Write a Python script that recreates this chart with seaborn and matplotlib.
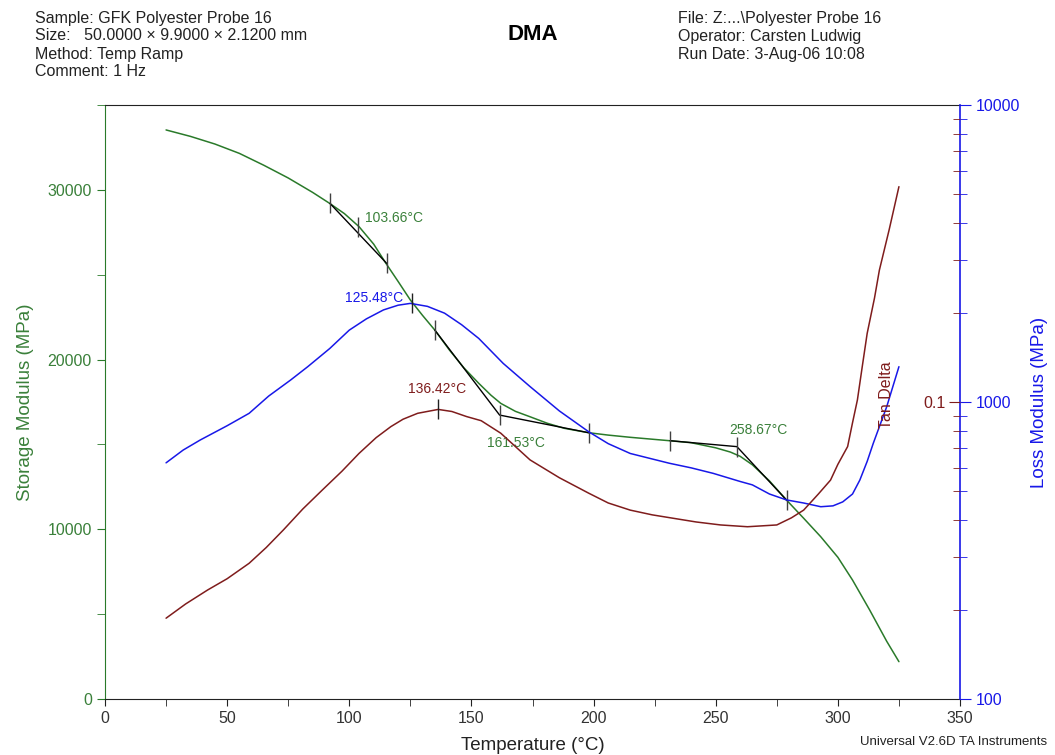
import pandas as pd
import seaborn as sns
import matplotlib.pyplot as plt
from matplotlib.ticker import MultipleLocator, FixedLocator, LogLocator, NullFormatter, FixedFormatter

# Storage modulus (MPa) vs temperature (°C)
storage_temp = [25, 35, 45, 55, 65, 75, 85, 92, 98, 104, 110, 115, 120, 125, 130, 135, 141, 147,
                153, 158, 162, 168, 174, 181, 188, 198, 206, 215, 223, 231, 240, 250, 256, 260,
                265, 272, 279, 286, 293, 300, 306, 313, 320, 325]
storage = [33530, 33150, 32700, 32150, 31450, 30700, 29850, 29200, 28600, 27830, 26800, 25670,
           24600, 23510, 22600, 21740, 20560, 19500, 18600, 17900, 17420, 16950, 16630, 16250,
           15950, 15690, 15550, 15420, 15320, 15220, 15100, 14800, 14550, 14300, 13800, 12850,
           11720, 10650, 9560, 8350, 7010, 5250, 3400, 2200]

# Loss modulus (MPa), log axis
loss_temp = [25, 32, 39, 50, 59, 67, 76, 83, 92, 100, 107, 114, 120, 125, 132, 139, 146, 153,
             163, 174, 186, 198, 206, 215, 223, 231, 240, 249, 260, 265, 272, 279, 286, 293,
             298, 302, 306, 309, 312, 314.5, 320, 325]
loss = [624, 689, 745, 832, 916, 1047, 1186, 1315, 1514, 1746, 1905, 2042, 2118, 2148, 2099,
        1991, 1820, 1637, 1349, 1127, 933, 794, 724, 671, 646, 622, 600, 575, 540, 526, 490,
        468, 457, 444, 447, 461, 490, 546, 631, 726, 964, 1315]

# Tan delta, log axis
tan_temp = [25, 33, 42, 50, 59, 66, 73, 81, 89, 97, 104, 111, 117, 122, 128, 136.4, 142, 148,
            154, 162, 168, 174, 186, 198, 206, 215, 224, 233, 242, 252, 263, 275, 281, 286,
            292, 297, 300, 304, 306, 308, 310, 312, 315, 317, 321, 325]
tan_delta = [0.01871, 0.02089, 0.02328, 0.02541, 0.02864, 0.03236, 0.03707, 0.04365, 0.05058,
             0.05848, 0.06714, 0.07586, 0.08260, 0.08750, 0.09162, 0.09441, 0.09290, 0.08933,
             0.08650, 0.07852, 0.07079, 0.06383, 0.05559, 0.04932, 0.04571, 0.04325, 0.04169,
             0.04055, 0.03945, 0.03855, 0.03802, 0.03855, 0.04074, 0.04325, 0.04898, 0.05458,
             0.06166, 0.07079, 0.08511, 0.1016, 0.1318, 0.1702, 0.2239, 0.2780, 0.3802, 0.5309]

# onset constructions on storage modulus
onset1_temp = [92.1, 115.3]
onset1_val = [29200, 25670]
onset2_temp = [135, 161.53, 198]
onset2_val = [21740, 16730, 15690]
onset3_temp = [231.3, 258.67, 279]
onset3_val = [15220, 14870, 11720]
storage_marks_temp = [92.1, 103.66, 115.3, 135, 161.53, 198, 231.3, 258.67, 279]
storage_marks_val = [29200, 27830, 25670, 21740, 16730, 15690, 15220, 14870, 11720]

loss_peak_temp, loss_peak_val = 125.48, 2150
tan_peak_temp, tan_peak_val = 136.42, 0.0944

header_left = ["Sample: GFK Polyester Probe 16",
               "Size:   50.0000 \u00d7 9.9000 \u00d7 2.1200 mm",
               "Method: Temp Ramp",
               "Comment: 1 Hz"]
header_right = ["File: Z:...\\Polyester Probe 16",
                "Operator: Carsten Ludwig",
                "Run Date: 3-Aug-06 10:08"]

green = "#2a7a2a"
green_txt = "#3a803a"
blue = "#1818e8"
brown = "#7f1c1c"

sns.set_style("white")
plt.rcParams['font.family'] = ['Liberation Sans', 'DejaVu Sans']

W, H = 1055, 755
fig = plt.figure(figsize=(W / 100, H / 100), dpi=100)
ax = fig.add_axes([105 / W, 1 - 699 / H, 855 / W, 594 / H])

storage_df = pd.DataFrame({"temp": storage_temp, "storage": storage})
loss_df = pd.DataFrame({"temp": loss_temp, "loss": loss})
tan_df = pd.DataFrame({"temp": tan_temp, "tan": tan_delta})

tick_fs = 11.5
note_fs = 10

# storage modulus
sns.lineplot(data=storage_df, x="temp", y="storage", ax=ax, color=green, lw=1.1)
ax.plot(onset1_temp, onset1_val, color="black", lw=1)
ax.plot(onset2_temp, onset2_val, color="black", lw=1)
ax.plot(onset3_temp, onset3_val, color="black", lw=1)
ax.plot(storage_marks_temp, storage_marks_val, ls="none", marker="|", ms=14, mew=1, color="#404040")
ax.set_xlim(0, 350)
ax.set_ylim(0, 35000)
ax.set_xlabel("Temperature (\u00b0C)", fontsize=13.5, color="#222222", labelpad=8)
ax.set_ylabel("Storage Modulus (MPa)", fontsize=13.5, color=green_txt, labelpad=10)
ax.xaxis.set_major_locator(MultipleLocator(50))
ax.xaxis.set_minor_locator(MultipleLocator(25))
ax.yaxis.set_major_locator(MultipleLocator(10000))
ax.yaxis.set_minor_locator(MultipleLocator(5000))
ax.tick_params(axis="x", which="both", bottom=True, direction="out", length=5, color="#222222",
               labelsize=tick_fs, labelcolor="#333333")
ax.tick_params(axis="y", which="both", left=True, direction="out", length=6, color=green,
               labelsize=tick_fs, labelcolor=green_txt)
ax.spines["left"].set_color(green)
ax.spines["bottom"].set_color("#222222")
ax.spines["top"].set_color("#222222")
ax.spines["right"].set_visible(False)
ax.text(106.5, 28340, "103.66\u00b0C", color=green_txt, fontsize=note_fs, va="center", ha="left")
ax.text(168.2, 15085, "161.53\u00b0C", color=green_txt, fontsize=note_fs, va="center", ha="center")
ax.text(267.3, 15850, "258.67\u00b0C", color=green_txt, fontsize=note_fs, va="center", ha="center")

# loss modulus
ax2 = ax.twinx()
ax2.set_yscale("log")
ax2.set_ylim(100, 10000)
sns.lineplot(data=loss_df, x="temp", y="loss", ax=ax2, color=blue, lw=1.1)
ax2.plot([loss_peak_temp], [loss_peak_val], ls="none", marker="|", ms=14, mew=1, color="#202020")
ax2.text(122, 2240, "125.48\u00b0C", color=blue, fontsize=note_fs, va="center", ha="right")
ax2.set_ylabel("Loss Modulus (MPa)", fontsize=13.5, color=blue, labelpad=8)
ax2.yaxis.set_major_locator(FixedLocator([100, 1000, 10000]))
ax2.yaxis.set_major_formatter(FixedFormatter(["100", "1000", "10000"]))
ax2.yaxis.set_minor_locator(LogLocator(base=10, subs=range(2, 10)))
ax2.yaxis.set_minor_formatter(NullFormatter())
ax2.tick_params(axis="y", which="both", right=True, direction="out", color=blue,
                labelsize=tick_fs, labelcolor=blue)
ax2.tick_params(axis="y", which="major", length=8)
ax2.tick_params(axis="y", which="minor", length=5)
for s in ["left", "top", "bottom"]:
    ax2.spines[s].set_visible(False)
ax2.spines["right"].set_color(blue)
ax2.spines["right"].set_linewidth(1.2)
ax2.set_xlim(0, 350)

# tan delta, ticks drawn inward from the right spine
ax3 = ax.twinx()
ax3.set_yscale("log")
ax3.set_ylim(0.01, 1)
sns.lineplot(data=tan_df, x="temp", y="tan", ax=ax3, color=brown, lw=1.1)
ax3.plot([tan_peak_temp], [tan_peak_val], ls="none", marker="|", ms=14, mew=1, color="#202020")
ax3.text(135.9, 0.111, "136.42\u00b0C", color=brown, fontsize=note_fs, va="center", ha="center")
ax3.text(320.1, 0.1057, "Tan Delta", color=brown, fontsize=11.5, rotation=90, va="center", ha="center")
ax3.set_ylabel("")
ax3.set_xlabel("")
ax3.spines["left"].set_position(("axes", 1.0))
ax3.yaxis.set_ticks_position("left")
for s in ["left", "right", "top", "bottom"]:
    ax3.spines[s].set_visible(False)
ax3.yaxis.set_major_locator(FixedLocator([0.1]))
ax3.yaxis.set_major_formatter(FixedFormatter(["0.1"]))
ax3.yaxis.set_minor_locator(LogLocator(base=10, subs=range(2, 10)))
ax3.yaxis.set_minor_formatter(NullFormatter())
ax3.tick_params(axis="y", which="both", left=True, right=False, direction="out", color=brown,
                labelsize=tick_fs, labelcolor=brown, labelleft=True, labelright=False, pad=2)
ax3.tick_params(axis="y", which="major", length=8)
ax3.tick_params(axis="y", which="minor", length=5)
ax3.set_xlim(0, 350)

# header texts
for i, line in enumerate(header_left):
    fig.text(35 / W, 1 - (18 + 18 * i) / H, line, fontsize=11.5, color="#222222", va="center", ha="left")
for i, line in enumerate(header_right):
    fig.text(678 / W, 1 - (18 + 18 * i) / H, line, fontsize=11.5, color="#222222", va="center", ha="left")
fig.text(533 / W, 1 - 35 / H, "DMA", fontsize=16, fontweight="bold", color="black", va="center", ha="center")
fig.text(1047 / W, 1 - 742 / H, "Universal V2.6D TA Instruments", fontsize=9.5, color="#222222",
         va="center", ha="right")

fig.savefig("out.png", dpi=100)
